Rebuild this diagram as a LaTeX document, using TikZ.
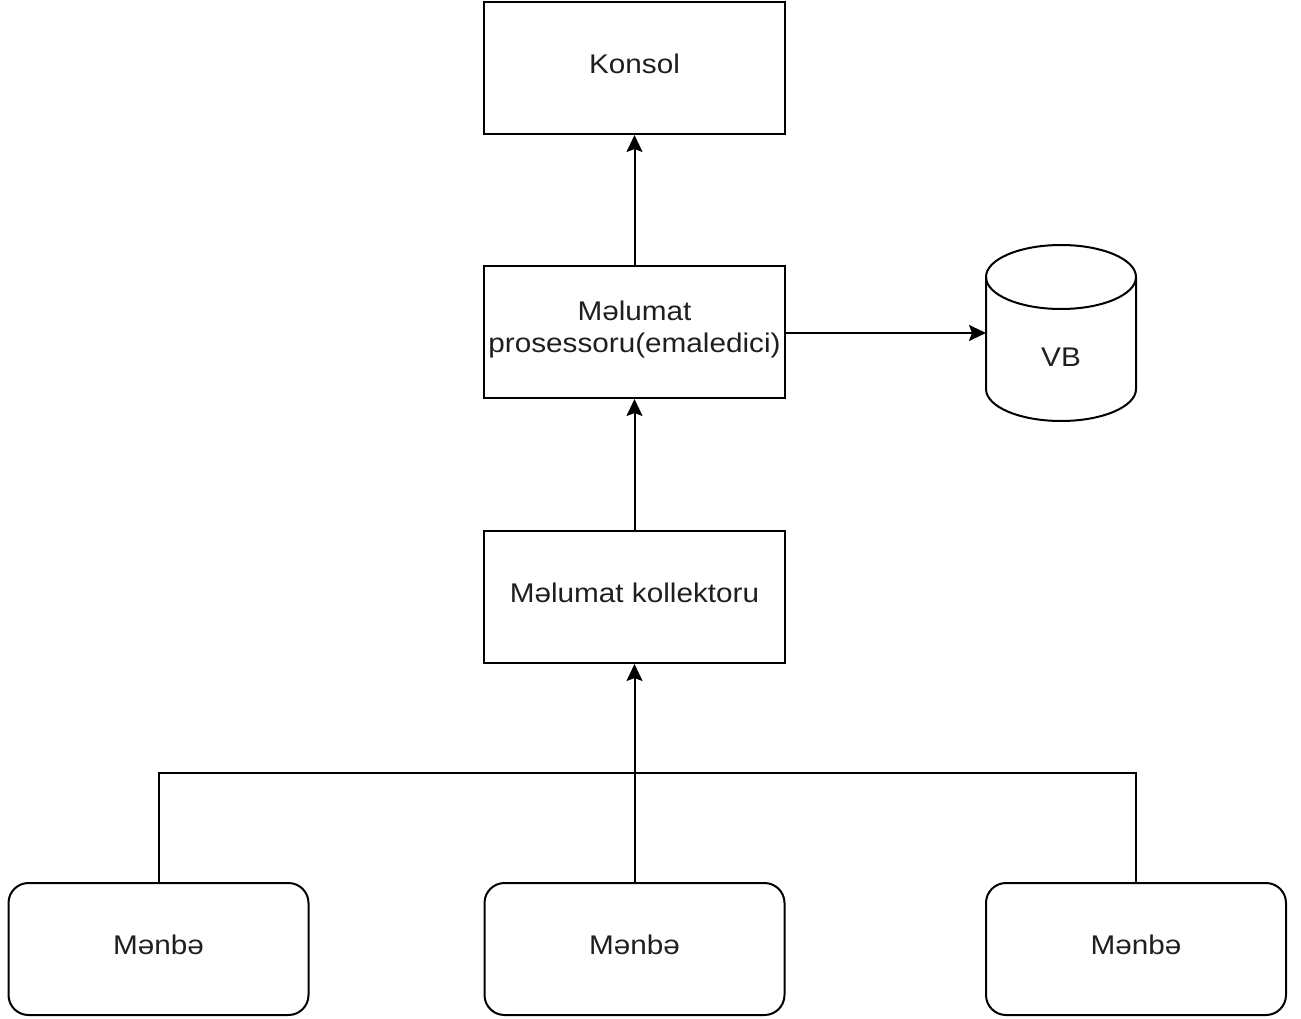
\documentclass[tikz,border=0pt]{standalone}
\usepackage{fontspec}
\setmainfont{Liberation Sans}[FakeStretch=1.1]
\usetikzlibrary{arrows.meta}
\begin{document}
\begin{tikzpicture}[x=1pt,y=-1pt,
  every node/.style={font=\fontsize{27}{32}\selectfont, text=black!88},
  box/.style={draw=black, line width=2pt, minimum width=301pt, minimum height=132pt, inner sep=0pt, align=center},
  srcbox/.style={box, rounded corners=20pt, minimum width=300pt},
  lbl/.style={draw=none, fill=none, inner sep=0pt},
  link/.style={line width=2pt, draw=black},
  arr/.style={link, -{Stealth[length=17pt,width=16pt,inset=3pt]}}]
  \useasboundingbox (0,0) rectangle (1301,1019);
  % main chain of boxes
  \node[box] (kon) at (634.5,68) {};
  \node[lbl] at (634.5,64) {Konsol};
  \node[box] (proc) at (634.5,332) {};
  \node[lbl, align=center] at (634.5,330) {Məlumat\\prosessoru(emaledici)};
  \node[box] (col) at (634.5,597) {};
  \node[lbl] at (634.5,593) {Məlumat kollektoru};
  % sources
  \node[srcbox] (s1) at (158.5,949) {};
  \node[srcbox] (s2) at (634.5,949) {};
  \node[srcbox] (s3) at (1136,949) {};
  \foreach \s in {s1,s2,s3} \node[lbl] at ([yshift=4pt]\s.center) {Mənbə};
  % database cylinder
  \draw[link, fill=white] (986,277) -- (986,389) arc[start angle=180, end angle=0, x radius=75, y radius=32]
    -- (1136,277) arc[start angle=0, end angle=-180, x radius=75, y radius=32] -- cycle;
  \draw[link] (986,277) arc[start angle=180, end angle=0, x radius=75, y radius=32];
  \node[lbl] (vb) at (1061,357) {VB};
  \coordinate (vbin) at (986,333);
  % connectors
  \coordinate (j) at (634.5,773);
  \draw[arr] (proc.north) -- (kon.south);
  \draw[arr] (col.north) -- (proc.south);
  \draw[arr] (proc.east |- vbin) -- (vbin);
  \draw[arr] (s2.north) -- (col.south);
  \draw[link] (s1.north) |- (j);
  \draw[link] (s3.north) |- (j);
\end{tikzpicture}
\end{document}
